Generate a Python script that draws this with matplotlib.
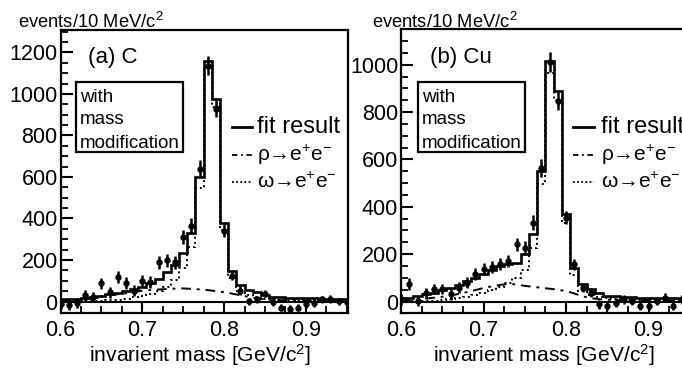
import matplotlib
matplotlib.use("Agg")
import matplotlib.pyplot as plt
from matplotlib.patches import Rectangle
from matplotlib.lines import Line2D
import numpy as np

plt.rcParams['font.family'] = ['Liberation Sans', 'DejaVu Sans']
plt.rcParams['mathtext.fontset'] = 'custom'
plt.rcParams['mathtext.rm'] = 'Liberation Sans'
plt.rcParams['mathtext.it'] = 'Liberation Sans:italic'

# ---------------- data ----------------
mass = [0.60, 0.61, 0.62, 0.63, 0.64, 0.65, 0.66, 0.67, 0.68, 0.69,
        0.70, 0.71, 0.72, 0.73, 0.74, 0.75, 0.76, 0.77, 0.78, 0.79,
        0.80, 0.81, 0.82, 0.83, 0.84, 0.85, 0.86, 0.87, 0.88, 0.89,
        0.90, 0.91, 0.92, 0.93, 0.94, 0.95]

# (a) C
c_fit = [12, 12, 14, 18, 22, 28, 35, 42, 50, 60,
         72, 87, 110, 140, 175, 232, 330, 600, 1160, 975,
         380, 145, 80, 55, 45, 32, 22, 20, 18, 17,
         16, 15, 14, 14, 13, 13]
c_omega = [0, 0, 1, 2, 3, 4, 6, 9, 14, 20,
           28, 38, 52, 72, 105, 160, 265, 545, 1125, 935,
           345, 115, 50, 30, 20, 14, 10, 8, 7, 6,
           5, 5, 4, 4, 4, 3]
c_rho = [2, 4, 7, 11, 16, 25, 30, 35, 40, 46,
         52, 55, 58, 60, 62, 63, 61, 58, 55, 50,
         45, 38, 30, 22, 15, 10, 8, 6, 5, 5,
         4, 4, 3, 3, 3, 3]
c_data = [-10, -15, -8, 29, 21, 88, 45, 117, 88, 53,
          101, 93, 189, 198, 189, 310, 366, 640, 1137, 930,
          342, 125, 53, 1, 10, 38, -3, -29, -34, -29,
          -14, -8, 10, 13, 1, -3]
c_err = [25, 25, 25, 25, 25, 27, 27, 28, 28, 28,
         28, 28, 30, 30, 30, 33, 35, 40, 45, 42,
         30, 22, 20, 18, 18, 18, 18, 18, 18, 18,
         18, 18, 18, 18, 18, 18]

# (b) Cu
cu_fit = [16, 16, 23, 30, 37, 47, 58, 68, 85, 100,
          117, 135, 150, 157, 164, 199, 284, 551, 1016, 889,
          368, 140, 75, 53, 37, 25, 23, 21, 17, 16,
          15, 14, 14, 13, 13, 13]
cu_omega = [0, 1, 2, 3, 4, 6, 9, 13, 19, 27,
            36, 48, 62, 78, 100, 135, 225, 495, 965, 850,
            330, 110, 45, 28, 18, 13, 10, 8, 7, 6,
            5, 5, 4, 4, 4, 3]
cu_rho = [3, 5, 8, 12, 16, 20, 25, 32, 40, 48,
          57, 64, 70, 74, 72, 66, 62, 58, 54, 50,
          44, 34, 22, 14, 10, 8, 6, 5, 5, 4,
          4, 4, 3, 3, 3, 3]
cu_data = [9, 73, 2, 37, 52, 52, 30, 58, 79, 115,
           136, 146, 157, 171, 242, 227, 333, 565, 1010, 847,
           354, 157, 58, 37, -12, -19, -5, 9, 2, -19,
           -19, 2, 16, -19, 9, 5]
cu_err = [22, 25, 22, 22, 22, 22, 22, 24, 24, 25,
          25, 25, 26, 26, 27, 28, 32, 38, 42, 40,
          28, 22, 18, 18, 18, 18, 18, 18, 18, 18,
          18, 18, 18, 18, 18, 18]

bin_width = 0.01
xticks_major = [0.6, 0.7, 0.8, 0.9]
xtick_labels = ['0.6', '0.7', '0.8', '0.9']
xticks_minor = [0.625, 0.65, 0.675, 0.725, 0.75, 0.775, 0.825, 0.85,
                0.875, 0.925, 0.95]

W, H = 682, 368
fig = plt.figure(figsize=(W / 100, H / 100), dpi=100)


def px_axes(x0, x1, y0, y1):
    return fig.add_axes([x0 / W, 1 - y1 / H, (x1 - x0) / W, (y1 - y0) / H])


def panel(ax, fit, omega, rho, data, err, xlim, ylim, yticks):
    m = np.array(mass)
    edges = np.concatenate([m - bin_width / 2, [m[-1] + bin_width / 2]])
    ax.axhline(0, color='black', lw=1.5, zorder=1)
    ax.stairs(omega, edges, baseline=None, color='black', lw=1.4,
              linestyle=(0, (1, 1.6)), zorder=2)
    ax.plot(m, rho, color='black', lw=1.4,
            linestyle=(0, (5, 3, 1.5, 3)), zorder=2)
    ax.stairs(fit, edges, baseline=None, color='black', lw=1.9, zorder=3)
    ax.errorbar(m, data, yerr=err, fmt='o', color='black', ms=3.6,
                elinewidth=1.8, capsize=0, zorder=4)
    ax.set_xlim(*xlim)
    ax.set_ylim(*ylim)
    ax.set_xticks(xticks_major)
    ax.set_xticklabels(xtick_labels)
    ax.set_xticks(xticks_minor, minor=True)
    ax.set_yticks(yticks)
    ax.set_yticks(np.arange(0, ylim[1], 50), minor=True)
    ax.tick_params(axis='both', which='major', direction='in', length=8.5,
                   width=1.5, labelsize=15.5, top=False, right=False)
    ax.tick_params(axis='both', which='minor', direction='in', length=4.8,
                   width=1.3, top=False, right=False)
    ax.tick_params(axis='x', pad=5)
    ax.tick_params(axis='y', pad=2)
    for s in ax.spines.values():
        s.set_linewidth(1.6)


# ----- left panel -----
axL = px_axes(60.5, 348, 30, 313)
y0L, sL = 301.5, 0.2075
ylimL = (-(313 - y0L) / sL, (y0L - 30) / sL)
xlimL = (0.6, 0.6 + (348 - 60.5) / 818)

# ----- right panel (right edge runs off the picture, as in the reference) -----
axR = px_axes(401, 401 + 0.35 * 825, 29, 313)
y0R, sR = 301.5, 0.2367
ylimR = (-(313 - y0R) / sR, (y0R - 29) / sR)
xlimR = (0.6, 0.95)

panel(axL, c_fit, c_omega, c_rho, c_data, c_err, xlimL, ylimL,
      [0, 200, 400, 600, 800, 1000, 1200])
panel(axR, cu_fit, cu_omega, cu_rho, cu_data, cu_err, xlimR, ylimR,
      [0, 200, 400, 600, 800, 1000])


def ftext(x, y, s, **kw):
    fig.text(x / W, 1 - y / H, s, **kw)


def fline(x0, x1, y, ls, lw=1.8):
    fig.add_artist(Line2D([x0 / W, x1 / W], [1 - y / H, 1 - y / H],
                          color='black', lw=lw, linestyle=ls,
                          transform=fig.transFigure))


for (evx, lab, labx, bx0, bx1, lx0, lx1, tx) in [
        (18, '(a) C', 88, 76, 183, 232, 252, 257),
        (372, '(b) Cu', 430, 418, 525, 573, 594, 601)]:
    ftext(evx, 22, 'events/10 MeV/c$^{2}$', fontsize=13.2,
          va='center', ha='left')
    ftext(labx, 58, lab, fontsize=16, va='center', ha='left')
    fig.add_artist(Rectangle((bx0 / W, 1 - 152 / H), (bx1 - bx0) / W,
                             70 / H, fill=False, lw=1.6, ec='black',
                             transform=fig.transFigure))
    ftext(bx0 + 4, 97, 'with', fontsize=13.5, va='center')
    ftext(bx0 + 4, 120, 'mass', fontsize=13.5, va='center')
    ftext(bx0 + 4, 143, 'modification', fontsize=13.5, va='center')
    fline(lx0, lx1, 127, '-', 2.0)
    fline(lx0, lx1, 155, (0, (3, 2, 1, 2)), 1.3)
    fline(lx0, lx1, 182, (0, (1, 1.3)), 1.3)
    ftext(tx, 127, 'fit result', fontsize=17, va='center')
    ftext(tx, 155, 'ρ→e$^{+}$e$^{-}$', fontsize=15, va='center')
    ftext(tx, 182, 'ω→e$^{+}$e$^{-}$', fontsize=15, va='center')

ftext(200, 355.5, 'invarient mass [GeV/c$^{2}$]', fontsize=15.2,
      ha='center', va='center')
ftext(544, 355.5, 'invarient mass [GeV/c$^{2}$]', fontsize=15.2,
      ha='center', va='center')

fig.savefig('out.png', dpi=100)
